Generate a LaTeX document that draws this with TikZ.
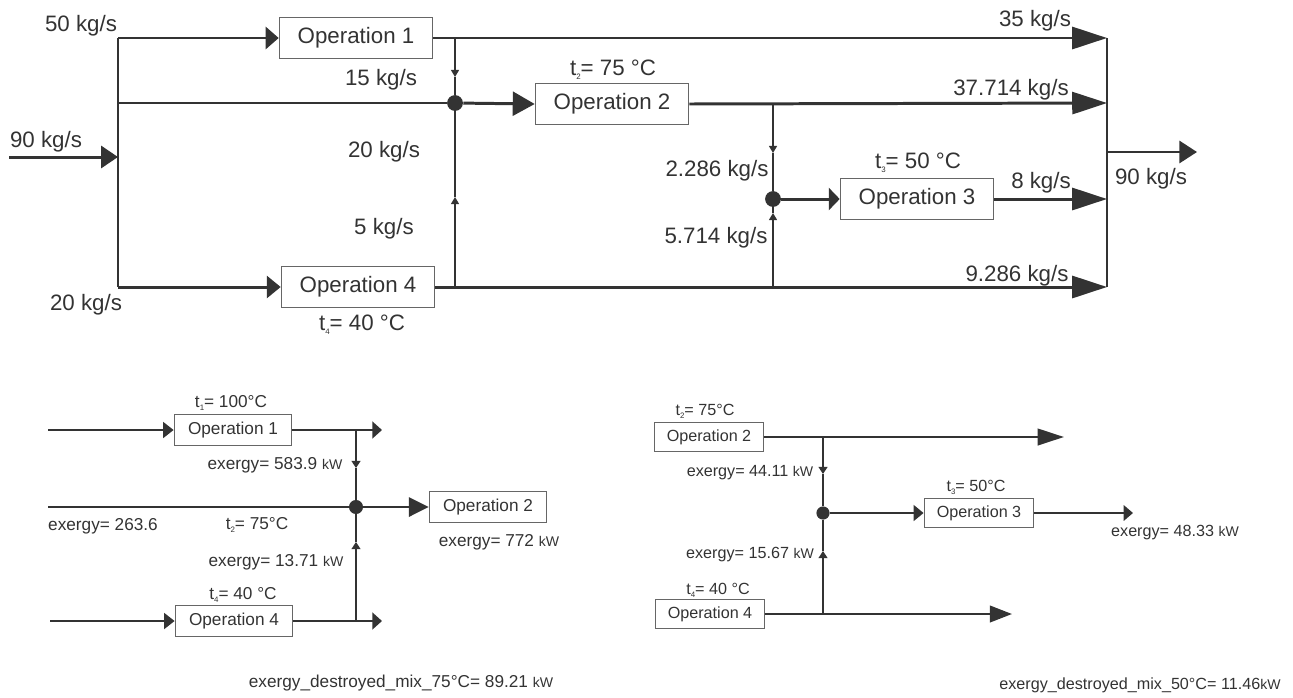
\documentclass[tikz,border=0pt]{standalone}
\usepackage{fontspec}
\setmainfont{Liberation Sans}
\usetikzlibrary{arrows.meta}
\definecolor{ink}{HTML}{333333}
\definecolor{boxline}{HTML}{666666}
\newcommand{\tsub}[1]{\raisebox{-0.35ex}{\fontsize{4.5}{5}\selectfont #1}}
\newcommand{\kw}{{\fontsize{8}{9}\selectfont kW}}
\tikzset{opbox/.style = {draw=boxline, line width=0.7pt, inner sep=0pt, text=ink}}
\tikzset{bigbox/.style = {minimum width=87.3pt, minimum height=23.2pt, font=\fontsize{12.7}{15}\selectfont}}
\tikzset{midbox/.style = {minimum width=66.9pt, minimum height=17.8pt, font=\fontsize{9.8}{12}\selectfont}}
\tikzset{smlbox/.style = {minimum width=62.4pt, minimum height=16.4pt, font=\fontsize{9.2}{11}\selectfont}}
\tikzset{pipe/.style = {draw=ink, line width=1.7pt}}
\tikzset{pipeb/.style = {draw=ink, line width=1.4pt}}
\tikzset{bus/.style = {draw=ink, line width=0.8pt}}
\tikzset{flow/.style 2 args = {-{Triangle[length=#1,width=#2]}}}
\tikzset{junction/.style = {circle, fill=ink, inner sep=0pt, minimum size=#1}}
\tikzset{lbl/.style = {text=ink, inner sep=0pt}}
\tikzset{bigtxt/.style = {lbl, font=\fontsize{12.7}{15}\selectfont}}
\tikzset{midtxt/.style = {lbl, font=\fontsize{9.8}{12}\selectfont}}
\tikzset{smltxt/.style = {lbl, font=\fontsize{9.2}{11}\selectfont}}

\begin{document}
\begin{tikzpicture}[x=0.02cm,y=-0.02cm]
\useasboundingbox (0,0) rectangle (1293,697);
% mass balance
\node[opbox,bigbox] (op1) at (356,38) {Operation 1};
\node[opbox,bigbox] (op2) at (612,104) {Operation 2};
\node[opbox,bigbox] (op3) at (917,199) {Operation 3};
\node[opbox,bigbox] (op4) at (358,287) {Operation 4};
\node[junction=9pt] (j1) at (455,103) {};
\node[junction=9pt] (j2) at (773,199) {};
\coordinate (in) at (9,157);
\coordinate (sl) at (118,157);
\coordinate (slt) at (118,38);
\coordinate (slm) at (118,103);
\coordinate (slb) at (118,287);
\coordinate (srt) at (1107,38);
\coordinate (sr2) at (1107,103);
\coordinate (sr3) at (1107,199);
\coordinate (srb) at (1107,287);
\coordinate (sro) at (1107,152);
\coordinate (out) at (1197,152);
\coordinate (b1t) at (455,38);
\coordinate (b1a) at (455,77);
\coordinate (b1c) at (455,197);
\coordinate (b1b) at (455,287);
\coordinate (b2t) at (773,103);
\coordinate (b2a) at (773,153);
\coordinate (b2c) at (773,213);
\coordinate (b2b) at (773,287);
\draw[pipe, flow={9.6pt}{12.5pt}] (in) -- (sl);
\draw[bus] (slt) -- (slb);
\draw[pipe, flow={7.4pt}{12.5pt}] (slt) -- (op1.west);
\draw[pipe] (slm) -- (j1);
\draw[pipe, flow={12.5pt}{13.6pt}] (j1) -- (op2.west);
\draw[pipe, flow={7.9pt}{12.5pt}] (slb) -- (op4.west);
\draw[pipe, flow={19.8pt}{12.5pt}] (op1.east) -- (srt);
\draw[pipe, flow={19.8pt}{12.5pt}] (op2.east) -- (sr2);
\draw[pipe, flow={6.2pt}{12.5pt}] (j2) -- (op3.west);
\draw[pipe, flow={19.8pt}{12.5pt}] (op3.east) -- (sr3);
\draw[pipe, flow={19.8pt}{12.5pt}] (op4.east) -- (srb);
\draw[bus] (srt) -- (srb);
\draw[pipe, flow={10pt}{12.5pt}] (sro) -- (out);
\draw[bus, flow={4pt}{4.5pt}] (b1t) -- (b1a);
\draw[bus] (b1a) -- (j1);
\draw[bus, flow={4pt}{4.5pt}] (b1b) -- (b1c);
\draw[bus] (b1c) -- (j1);
\draw[bus, flow={4pt}{4.5pt}] (b2t) -- (b2a);
\draw[bus] (b2a) -- (j2);
\draw[bus, flow={4pt}{4.5pt}] (b2b) -- (b2c);
\draw[bus] (b2c) -- (j2);
\node[bigtxt] (m50) at (81,26) {50 kg/s};
\node[bigtxt] (m90a) at (46,142) {90 kg/s};
\node[bigtxt] (m20a) at (86,305) {20 kg/s};
\node[bigtxt] (m15) at (381,80) {15 kg/s};
\node[bigtxt] (m20b) at (384,152) {20 kg/s};
\node[bigtxt] (m5) at (384,229) {5 kg/s};
\node[bigtxt] (t4a) at (362,325) {t\tsub{4}= 40 °C};
\node[bigtxt] (t2a) at (613,70) {t\tsub{2}= 75 °C};
\node[bigtxt] (m2286) at (717,171) {2.286 kg/s};
\node[bigtxt] (m5714) at (716,238) {5.714 kg/s};
\node[bigtxt] (t3a) at (918,163) {t\tsub{3}= 50 °C};
\node[bigtxt] (m35) at (1035,21) {35 kg/s};
\node[bigtxt] (m37) at (1011,90) {37.714 kg/s};
\node[bigtxt] (m8) at (1041,183) {8 kg/s};
\node[bigtxt] (m9) at (1017,276) {9.286 kg/s};
\node[bigtxt] (m90b) at (1151,179) {90 kg/s};
%
% exergy, mixing at 75 C
\node[opbox,midbox] (op1b) at (233,430) {Operation 1};
\node[opbox,midbox] (op2b) at (488,507) {Operation 2};
\node[opbox,midbox] (op4b) at (234,621) {Operation 4};
\node[junction=8pt] (j3) at (356,507) {};
\coordinate (in1b) at (48,430);
\coordinate (out1b) at (382,430);
\coordinate (in2b) at (48,507);
\coordinate (in4b) at (50,621);
\coordinate (out4b) at (382,621);
\coordinate (b3t) at (356,430);
\coordinate (b3a) at (356,468);
\coordinate (b3c) at (356,542);
\coordinate (b3b) at (356,621);
\draw[pipeb, flow={6pt}{9pt}] (in1b) -- (op1b.west);
\draw[pipeb, flow={5.5pt}{9.5pt}] (op1b.east) -- (out1b);
\draw[pipeb] (in2b) -- (j3);
\draw[pipeb, flow={11.3pt}{11pt}] (j3) -- (op2b.west);
\draw[pipeb, flow={6pt}{9pt}] (in4b) -- (op4b.west);
\draw[pipeb, flow={5.5pt}{9.5pt}] (op4b.east) -- (out4b);
\draw[bus, flow={4pt}{5pt}] (b3t) -- (b3a);
\draw[bus] (b3a) -- (j3);
\draw[bus, flow={4pt}{5pt}] (b3b) -- (b3c);
\draw[bus] (b3c) -- (j3);
\node[midtxt] (t1b) at (231,403) {t\tsub{1}= 100°C};
\node[midtxt] (e1b) at (275,465) {exergy= 583.9 \kw};
\node[midtxt] (e2b) at (103,526) {exergy= 263.6};
\node[midtxt] (t2b) at (257,525) {t\tsub{2}= 75°C};
\node[midtxt] (e4b) at (276,562) {exergy= 13.71 \kw};
\node[midtxt] (t4b) at (243,595) {t\tsub{4}= 40 °C};
\node[midtxt] (e3b) at (499,542) {exergy= 772 \kw};
\node[midtxt] (dmix75) at (401,683) {exergy\_destroyed\_mix\_75°C= 89.21 \kw};
%
% exergy, mixing at 50 C
\node[opbox,smlbox] (op2c) at (709,437) {Operation 2};
\node[opbox,smlbox] (op3c) at (979,513) {Operation 3};
\node[opbox,smlbox] (op4c) at (710,614) {Operation 4};
\node[junction=7.5pt] (j4) at (823,513) {};
\coordinate (out2c) at (1064,437);
\coordinate (out3c) at (1133,513);
\coordinate (out4c) at (1012,614);
\coordinate (b4t) at (823,437);
\coordinate (b4a) at (823,474);
\coordinate (b4c) at (823,551);
\coordinate (b4b) at (823,614);
\draw[pipeb, flow={15pt}{9.4pt}] (op2c.east) -- (out2c);
\draw[pipeb, flow={5.7pt}{9pt}] (j4) -- (op3c.west);
\draw[pipeb, flow={5.3pt}{8.7pt}] (op3c.east) -- (out3c);
\draw[pipeb, flow={12.6pt}{9.4pt}] (op4c.east) -- (out4c);
\draw[bus, flow={4pt}{5pt}] (b4t) -- (b4a);
\draw[bus] (b4a) -- (j4);
\draw[bus, flow={4pt}{5pt}] (b4b) -- (b4c);
\draw[bus] (b4c) -- (j4);
\node[smltxt] (t2c) at (705,411) {t\tsub{2}= 75°C};
\node[smltxt] (e2c) at (750,473) {exergy= 44.11 \kw};
\node[smltxt] (t3c) at (976,487) {t\tsub{3}= 50°C};
\node[smltxt] (e3c) at (1175,533) {exergy= 48.33 \kw};
\node[smltxt] (e4c) at (750,555) {exergy= 15.67 \kw};
\node[smltxt] (t4c) at (718,590) {t\tsub{4}= 40 °C};
\node[smltxt] (dmix50) at (1140,685) {exergy\_destroyed\_mix\_50°C= 11.46\kw};
\end{tikzpicture}
\end{document}
